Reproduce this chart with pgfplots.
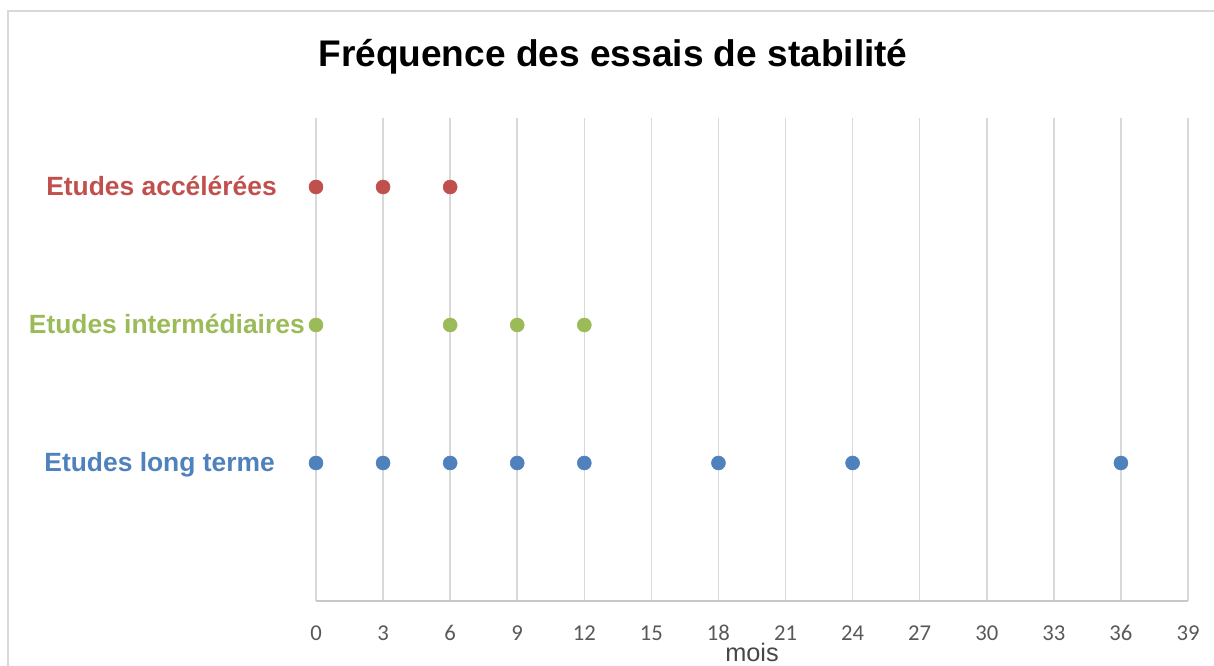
\documentclass[border=0pt]{standalone}
\usepackage{pgfplots}
\pgfplotsset{compat=1.18}
\usepackage{fontspec}
\setmainfont{Liberation Sans}
\newfontfamily\carlito{Carlito}
\definecolor{cred}{HTML}{C0504D}
\definecolor{cgreen}{HTML}{9BBB59}
\definecolor{cblue}{HTML}{4F81BD}
\definecolor{gridc}{RGB}{217,217,217}
\definecolor{axisc}{RGB}{200,200,200}
\definecolor{tickc}{RGB}{89,89,89}
\begin{document}
\begin{tikzpicture}
\useasboundingbox (0,0) rectangle (910.5pt,499.5pt);
\draw[gridc, line width=1.2pt] (6pt,-20pt) -- (6pt,491.25pt) -- (940pt,491.25pt);
\node[anchor=base, font=\bfseries\fontsize{27.8}{32}\selectfont] at (459.75pt,449.25pt) {Fréquence des essais de stabilité};
\begin{axis}[
  at={(237pt,48.75pt)}, anchor=south west,
  scale only axis, width=654pt, height=362.25pt,
  xmin=0, xmax=39, ymin=0, ymax=3.5,
  xtick={0,3,...,39}, ytick=\empty,
  axis x line*=bottom, axis y line=none,
  axis line style={axisc, line width=1.2pt, -},
  xmajorgrids, major grid style={gridc, line width=1.2pt},
  major tick length=0pt,
  /pgf/number format/assume math mode=true,
  xticklabel style={font=\carlito\fontsize{17}{20}\selectfont, text=tickc, anchor=base, yshift=-30pt},
  xlabel={mois},
  xlabel style={font=\fontsize{19}{22}\selectfont, text=tickc!80!black, anchor=base, inner sep=0pt, at={(axis description cs:0.5,0)}, yshift=-45.5pt},
  clip=false,
]
\addplot[only marks, mark=*, mark size=5.25pt, cred, mark options={draw=cred, fill=cred}] coordinates {(0,3) (3,3) (6,3)};
\addplot[only marks, mark=*, mark size=5.25pt, cgreen, mark options={draw=cgreen, fill=cgreen}] coordinates {(0,2) (6,2) (9,2) (12,2)};
\addplot[only marks, mark=*, mark size=5.25pt, cblue, mark options={draw=cblue, fill=cblue}] coordinates {(0,1) (3,1) (6,1) (9,1) (12,1) (18,1) (24,1) (36,1)};
\node[anchor=base east, inner sep=0pt, text=cred, font=\bfseries\fontsize{19.8}{24}\selectfont, yshift=-6.75pt] at (axis cs:-1.744,3) {Etudes accélérées};
\node[anchor=base east, inner sep=0pt, text=cgreen, font=\bfseries\fontsize{19.8}{24}\selectfont, yshift=-6.75pt] at (axis cs:-0.492,2) {Etudes intermédiaires};
\node[anchor=base east, inner sep=0pt, text=cblue, font=\bfseries\fontsize{19.8}{24}\selectfont, yshift=-6.75pt] at (axis cs:-1.834,1) {Etudes long terme};
\end{axis}
\end{tikzpicture}
\end{document}
